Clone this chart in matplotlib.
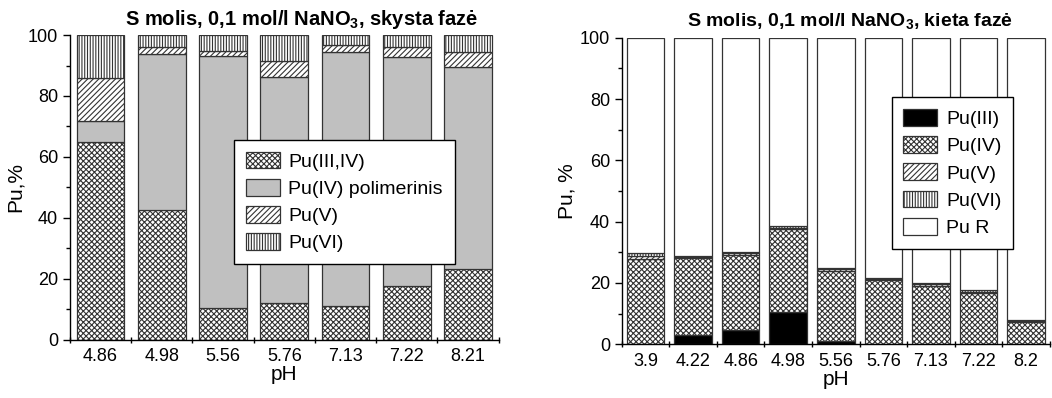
import matplotlib
matplotlib.use("Agg")
import matplotlib.pyplot as plt
import numpy as np

plt.rcParams['font.family'] = ['Liberation Sans', 'DejaVu Sans']
plt.rcParams['mathtext.fontset'] = 'custom'
plt.rcParams['mathtext.rm'] = 'Liberation Sans'
plt.rcParams['mathtext.bf'] = 'Liberation Sans:bold'
plt.rcParams['hatch.linewidth'] = 0.8

# --- liquid phase ---
ph_liq = ['4.86', '4.98', '5.56', '5.76', '7.13', '7.22', '8.21']
liq_pu34 = [65.0, 42.6, 10.4, 12.2, 11.1, 17.6, 23.2]
liq_pu4pol = [6.8, 51.1, 82.7, 73.9, 83.4, 75.3, 66.4]
liq_pu5 = [14.0, 2.5, 1.8, 5.5, 2.2, 3.2, 4.9]
liq_pu6 = [14.2, 3.8, 5.1, 8.4, 3.3, 3.9, 5.5]
liq_names = ['Pu(III,IV)', 'Pu(IV) polimerinis', 'Pu(V)', 'Pu(VI)']

# --- solid phase ---
ph_sol = ['3.9', '4.22', '4.86', '4.98', '5.56', '5.76', '7.13', '7.22', '8.2']
sol_pu3 = [0.0, 3.0, 4.7, 10.6, 1.2, 0.0, 0.0, 0.0, 0.0]
sol_pu4 = [27.8, 25.0, 24.4, 26.9, 22.8, 21.0, 19.1, 16.8, 7.4]
sol_pu5 = [1.1, 0.4, 0.6, 0.5, 0.5, 0.2, 0.5, 0.4, 0.2]
sol_pu6 = [0.8, 0.4, 0.5, 0.6, 0.5, 0.3, 0.5, 0.5, 0.3]
sol_names = ['Pu(III)', 'Pu(IV)', 'Pu(V)', 'Pu(VI)', 'Pu R']

fig = plt.figure(figsize=(10.52, 3.98), dpi=100)
ax1 = fig.add_axes([0.0665, 0.146, 0.4075, 0.766])
ax2 = fig.add_axes([0.591, 0.135, 0.407, 0.770])

EDGE = '#333333'
styles_liq = [
    dict(color='white', hatch='xxxxxx'),
    dict(color='#c0c0c0', hatch=None),
    dict(color='white', hatch='//////'),
    dict(color='white', hatch='||||||'),
]
styles_sol = [
    dict(color='black', hatch=None),
    dict(color='white', hatch='xxxxxx'),
    dict(color='white', hatch='//////'),
    dict(color='white', hatch='||||||'),
    dict(color='white', hatch=None),
]


def stacked(ax, cats, series, names, styles, width):
    x = np.arange(len(cats))
    bottom = np.zeros(len(cats))
    handles = []
    for vals, name, st in zip(series, names, styles):
        vals = np.asarray(vals, dtype=float)
        b = ax.bar(x, vals, width, bottom=bottom, color=st['color'],
                   hatch=st['hatch'], edgecolor=EDGE, linewidth=0.9,
                   label=name)
        handles.append(b)
        bottom += vals
    ax.set_xlim(-0.5, len(cats) - 0.5)
    ax.set_ylim(0, 100)
    ax.set_xticks(x)
    ax.set_xticklabels(cats)
    ax.set_xticks(np.arange(len(cats) + 1) - 0.5, minor=True)
    ax.tick_params(axis='x', which='major', length=0, labelsize=13, pad=6)
    ax.tick_params(axis='x', which='minor', length=5, width=1,
                   direction='inout')
    ax.set_yticks(np.arange(0, 101, 20))
    ax.set_yticks(np.arange(10, 100, 20), minor=True)
    ax.tick_params(axis='y', which='major', length=5, width=1, labelsize=13)
    ax.tick_params(axis='y', which='minor', length=3, width=1)
    for s in ('top', 'right'):
        ax.spines[s].set_visible(False)
    for s in ('left', 'bottom'):
        ax.spines[s].set_linewidth(1)
    ax.set_xlabel('pH', fontsize=15, labelpad=0)
    return handles


def legend(ax, handles, x_px, y_px):
    leg = ax.legend(handles=handles, loc='upper left',
                    bbox_to_anchor=(x_px / 1052, 1 - y_px / 398),
                    bbox_transform=fig.transFigure, borderaxespad=0,
                    fontsize=14, frameon=True, fancybox=False,
                    facecolor='white', framealpha=1,
                    edgecolor='black', handlelength=1.75, handleheight=0.95,
                    labelspacing=0.42, borderpad=0.6, handletextpad=0.45)
    leg.get_frame().set_linewidth(1)
    return leg


h1 = stacked(ax1, ph_liq, [liq_pu34, liq_pu4pol, liq_pu5, liq_pu6],
             liq_names, styles_liq, 0.78)
ax1.set_ylabel('Pu,%', fontsize=15, labelpad=2)
fig.text(302 / 1052, 1 - 19.5 / 398,
         r'S molis, 0,1 mol/l NaNO$_\mathbf{3}$, skysta fazė',
         fontsize=14.5, fontweight='bold', ha='center', va='center')
legend(ax1, h1, 234, 140)

pu_r = [100 - a - b - c - d for a, b, c, d in
        zip(sol_pu3, sol_pu4, sol_pu5, sol_pu6)]
h2 = stacked(ax2, ph_sol, [sol_pu3, sol_pu4, sol_pu5, sol_pu6, pu_r],
             sol_names, styles_sol, 0.79)
ax2.set_ylabel('Pu, %', fontsize=15, labelpad=2)
fig.text(850 / 1052, 1 - 22 / 398,
         r'S molis, 0,1 mol/l NaNO$_\mathbf{3}$, kieta fazė',
         fontsize=14, fontweight='bold', ha='center', va='center')
legend(ax2, h2, 891.7, 97.3)

fig.savefig('out.png', dpi=100)
